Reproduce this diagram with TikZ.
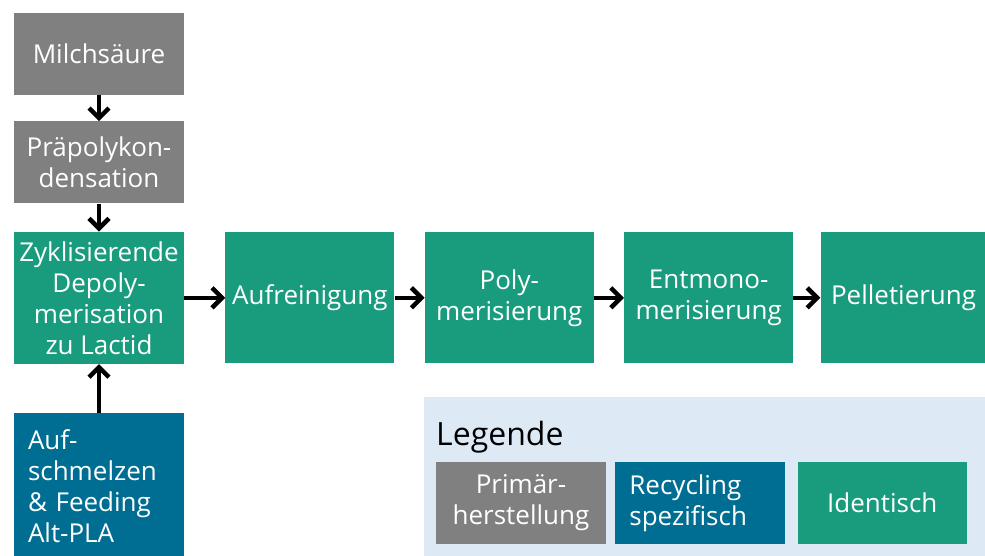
\documentclass[tikz,border=0pt]{standalone}
\usepackage{fontspec}
\setmainfont{Open Sans}
\usepackage{xcolor}
\usetikzlibrary{arrows.meta, positioning, backgrounds}

\definecolor{primgray}{RGB}{128,128,128}
\definecolor{identgreen}{RGB}{25,156,125}
\definecolor{recyblue}{RGB}{0,110,146}
\definecolor{legendbg}{RGB}{221,234,245}

\begin{document}
\begin{tikzpicture}[
        x=1pt, y=1pt,
        box/.style={
            rectangle, inner sep=0pt, minimum width=170pt, minimum height=131pt,
            text=white, align=center, font=\fontsize{26}{31}\selectfont
        },
        prim/.style={box, fill=primgray, minimum height=82pt},
        recy/.style={box, fill=recyblue, text width=142pt, align=left},
        ident/.style={box, fill=identgreen},
        legitem/.style={box, minimum height=82pt},
        arr/.style={-{Straight Barb[length=10pt, width=20pt]}, line width=4.5pt, black}
    ]
    \useasboundingbox (0,0) rectangle (985,-556);

    % === Primary chain ===
    \node[prim] (milch) at (99,-54) {Milchsäure};
    \node[prim, below=26pt of milch] (praepoly) {Präpolykon-\\densation};
    \node[ident, below=28pt of praepoly, minimum height=132pt] (zykl) {Zyklisierende\\Depoly-\\merisation\\zu Lactid};

    % === Shared process steps ===
    \node[ident, right=41pt of zykl, minimum width=169pt] (aufrein) {Aufreinigung};
    \node[ident, right=30pt of aufrein, minimum width=169pt] (polym) {Poly-\\merisierung};
    \node[ident, right=30pt of polym, minimum width=169pt] (entmono) {Entmono-\\merisierung};
    \node[ident, right=27pt of entmono, minimum width=166pt] (pellet) {Pelletierung};

    % === Recycling input ===
    \node[recy, below=49pt of zykl, minimum height=145pt] (aufschm) {Auf-\\schmelzen\\\& Feeding\\Alt-PLA};

    % === Flow arrows ===
    \draw[arr] (milch) -- (praepoly);
    \draw[arr] (praepoly) -- (zykl);
    \draw[arr] (aufschm) -- (zykl);
    \draw[arr] (zykl) -- (aufrein);
    \draw[arr] (aufrein) -- (polym);
    \draw[arr] (polym) -- (entmono);
    \draw[arr] (entmono) -- (pellet);

    % === Legend ===
    \node[anchor=base west, inner sep=0pt, font=\fontsize{32}{38}\selectfont] (legtitle) at (436,-445) {Legende};
    \node[legitem, fill=primgray] (lprim) at (521,-503) {Primär-\\herstellung};
    \node[legitem, recy, right=9pt of lprim, minimum height=82pt] (lrecy) {Recycling\\spezifisch};
    \node[legitem, fill=identgreen, right=12pt of lrecy, minimum width=169pt] (lident) {Identisch};
    \begin{scope}[on background layer]
        \fill[legendbg] (424,-397) rectangle (985,-556);
    \end{scope}

\end{tikzpicture}
\end{document}
